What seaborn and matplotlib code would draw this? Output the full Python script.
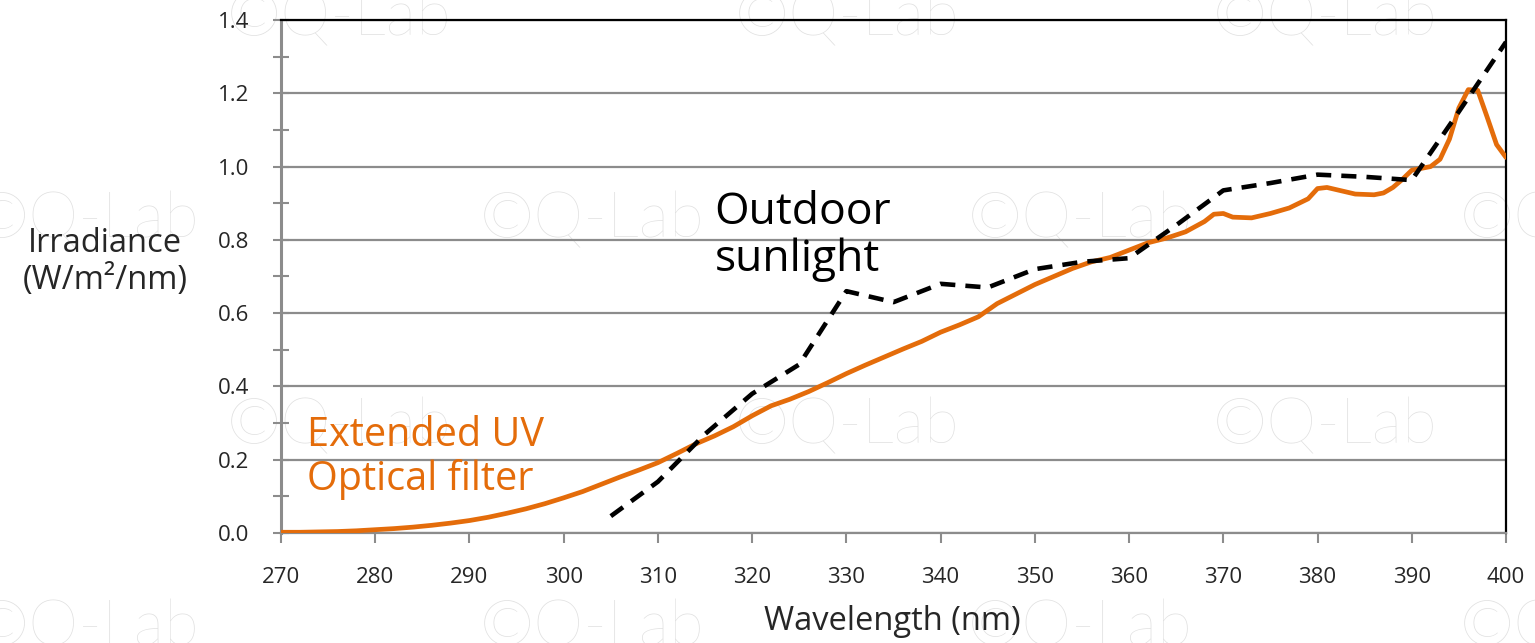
import numpy as np
import pandas as pd
import matplotlib
matplotlib.use("Agg")
import matplotlib.pyplot as plt
import seaborn as sns
from matplotlib.ticker import MultipleLocator

# ---- data ----
filter_nm = [270, 272, 274, 276, 278, 280, 282, 284, 286, 288, 290, 292, 294, 296, 298,
             300, 302, 304, 306, 308, 310, 312, 314, 316, 318, 320, 322, 324, 326, 328,
             330, 332, 334, 336, 338, 340, 342, 344, 346, 348, 350, 352, 354, 356, 358,
             360, 362, 364, 366, 368, 369, 370, 371, 373, 375, 377, 379, 380, 381, 382,
             384, 386, 387, 388, 389, 390, 391, 392, 393, 394, 395, 396, 397, 398, 399, 400]
filter_irr = [0.002, 0.002, 0.003, 0.004, 0.006, 0.009, 0.012, 0.016, 0.021, 0.027, 0.034,
              0.043, 0.054, 0.066, 0.080, 0.096, 0.113, 0.133, 0.153, 0.172, 0.192, 0.217,
              0.243, 0.265, 0.290, 0.320, 0.347, 0.365, 0.386, 0.410, 0.435, 0.458, 0.480,
              0.502, 0.523, 0.548, 0.568, 0.590, 0.626, 0.652, 0.678, 0.700, 0.722, 0.740,
              0.752, 0.772, 0.792, 0.805, 0.822, 0.850, 0.870, 0.872, 0.862, 0.860, 0.872,
              0.887, 0.912, 0.940, 0.943, 0.937, 0.925, 0.923, 0.928, 0.943, 0.965, 0.990,
              0.995, 1.000, 1.020, 1.075, 1.160, 1.210, 1.208, 1.135, 1.060, 1.025]

sun_nm = [305, 310, 315, 320, 325, 330, 335, 340, 345, 350, 355, 360, 365, 370, 375,
          380, 385, 390, 395, 400]
sun_irr = [0.046, 0.140, 0.270, 0.380, 0.460, 0.660, 0.630, 0.680, 0.670, 0.720, 0.740,
           0.750, 0.840, 0.935, 0.955, 0.978, 0.972, 0.963, 1.150, 1.340]

x_ticks = [270, 280, 290, 300, 310, 320, 330, 340, 350, 360, 370, 380, 390, 400]
y_ticks = [0.0, 0.2, 0.4, 0.6, 0.8, 1.0, 1.2, 1.4]

filter_label = "Extended UV\nOptical filter"
sun_label = "Outdoor\nsunlight"
x_title = "Wavelength (nm)"
y_title = "Irradiance\n(W/m\u00b2/nm)"
watermark = "\u00a9Q-Lab"

ORANGE = "#E46C0A"
GRID = "#8c8c8c"

df_filter = pd.DataFrame({"nm": filter_nm, "irr": filter_irr})
df_sun = pd.DataFrame({"nm": sun_nm, "irr": sun_irr})

sns.set_style("white")
plt.rcParams["font.family"] = ["Open Sans", "DejaVu Sans"]

W, H = 1535, 643
fig = plt.figure(figsize=(W / 100, H / 100), dpi=100)
fig.patch.set_facecolor("white")
ax = fig.add_axes([281 / W, 1 - 533 / H, (1506 - 281) / W, (533 - 20) / H])
ax.set_facecolor("none")

# watermarks (behind the axes)
rowA_x = [227, 735, 1213]
rowB_x = [-25, 480, 968, 1460]
for base_y, xs in [(35, rowA_x), (238, rowB_x), (443, rowA_x), (645, rowB_x)]:
    for x0 in xs:
        fig.text(x0 / W, 1 - base_y / H, watermark, fontsize=46, color="#e0e0e0",
                 ha="left", va="baseline", zorder=-5,
                 family=["Lato", "DejaVu Sans"], fontweight="light")

sns.lineplot(data=df_filter, x="nm", y="irr", ax=ax, color=ORANGE, linewidth=3.4,
             zorder=3)
sns.lineplot(data=df_sun, x="nm", y="irr", ax=ax, color="black", linewidth=3.3,
             zorder=4)
ax.lines[1].set_dashes((3.3, 2.2))
ax.lines[1].set_dash_capstyle("butt")

ax.set_xlim(270, 400)
ax.set_ylim(0, 1.4)
ax.set_xticks(x_ticks)
ax.set_xticklabels([str(v) for v in x_ticks])
ax.set_yticks(y_ticks)
ax.set_yticklabels([f"{v:.1f}" for v in y_ticks])
ax.yaxis.set_minor_locator(MultipleLocator(0.1))
ax.yaxis.grid(True, which="major", color=GRID, linewidth=1.6)
ax.set_axisbelow(True)
ax.set_xlabel("")
ax.set_ylabel("")

ax.tick_params(axis="y", which="both", direction="inout", length=12, width=1.5,
               color=GRID, labelsize=16, pad=17, left=True)
ax.tick_params(axis="x", which="major", direction="out", length=7.5, width=1.5,
               color=GRID, labelsize=16, pad=17, bottom=True)

for side in ["left", "bottom"]:
    ax.spines[side].set_color(GRID)
ax.spines["left"].set_linewidth(2.2)
ax.spines["bottom"].set_linewidth(1.6)
for side in ["top", "right"]:
    ax.spines[side].set_color("black")
    ax.spines[side].set_linewidth(1.6)
    ax.spines[side].set_visible(True)

ax.text(316.0, 0.81, sun_label, fontsize=32, color="black", ha="left", va="center",
        linespacing=1.1, zorder=5)
ax.text(272.8, 0.205, filter_label, fontsize=28.5, color=ORANGE, ha="left",
        va="center", linespacing=1.1, zorder=5)

fig.text(105 / W, 1 - 262 / H, y_title, fontsize=23.5, ha="center", va="center",
         linespacing=1.2)
fig.text(892 / W, 1 - 622 / H, x_title, fontsize=23.5, ha="center", va="center")

fig.savefig("out.png", dpi=100, facecolor="white")
